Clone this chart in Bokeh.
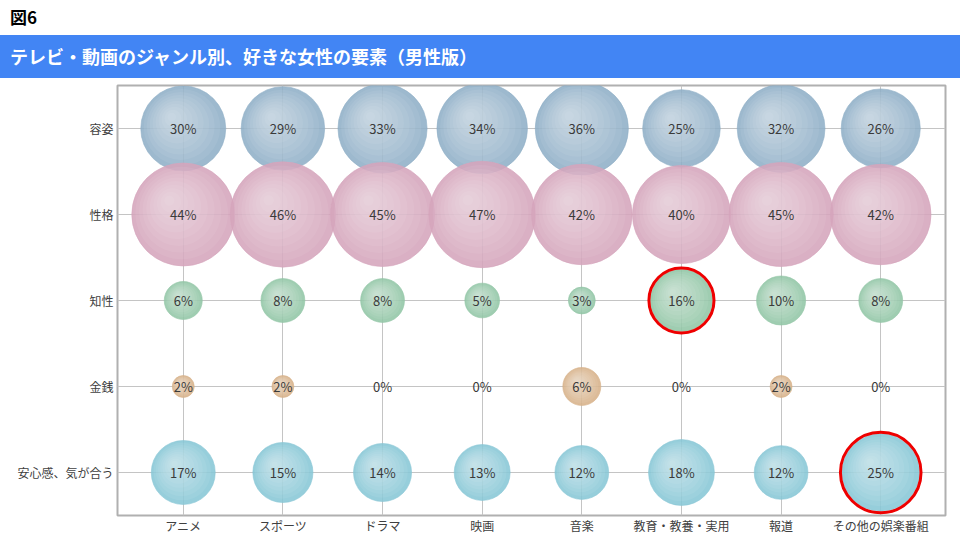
import math
from bokeh.plotting import figure
from bokeh.models import Range1d, FixedTicker, Div
from bokeh.layouts import column
from bokeh.embed import file_html
from bokeh.resources import INLINE
from bokeh.core.properties import value

# ---------------- data ----------------
genres = ["アニメ", "スポーツ", "ドラマ", "映画", "音楽", "教育・教養・実用", "報道", "その他の娯楽番組"]
factors = ["容姿", "性格", "知性", "金銭", "安心感、気が合う"]
v_appearance = [30, 29, 33, 34, 36, 25, 32, 26]
v_personality = [44, 46, 45, 47, 42, 40, 45, 42]
v_intellect = [6, 8, 8, 5, 3, 16, 10, 8]
v_money = [2, 2, 0, 0, 6, 0, 2, 0]
v_comfort = [17, 15, 14, 13, 12, 18, 12, 25]
series = [v_appearance, v_personality, v_intellect, v_money, v_comfort]
highlighted = [("教育・教養・実用", "知性"), ("その他の娯楽番組", "安心感、気が合う")]

fig_label = "図6"
banner_title = "テレビ・動画のジャンル別、好きな女性の要素（男性版）"

edge_colors = ["#8fafc7", "#d5a5bc", "#92c6a6", "#d7b28a", "#88c7d6"]

# ---------------- layout constants ----------------
W = 960
FIG_H = 462
BL, BR, BT, BB = 117, 15, 7, 25
x0, x1 = -0.66, 7.65
y0, y1 = 4.5, -0.5
frame_w = W - BL - BR
frame_h = FIG_H - BT - BB
ppx = frame_w / (x1 - x0)
ppy = frame_h / abs(y1 - y0)
R_SCALE = 7.76  # px radius per sqrt(percent)

FONT = "Noto Sans CJK JP"

p = figure(width=W, height=FIG_H, output_backend="svg", toolbar_location=None,
           x_range=Range1d(x0, x1), y_range=Range1d(y0, y1),
           min_border_left=BL, min_border_right=BR, min_border_top=BT, min_border_bottom=BB,
           margin=(0, 0, 0, 0))
p.outline_line_color = "#b0b0b0"
p.outline_line_width = 2
p.background_fill_color = "white"
p.border_fill_color = "white"

for ax, labels in ((p.xaxis, genres), (p.yaxis, factors)):
    ax.ticker = FixedTicker(ticks=list(range(len(labels))))
    ax.major_label_overrides = {i: s for i, s in enumerate(labels)}
    ax.axis_line_color = None
    ax.major_tick_line_color = None
    ax.minor_tick_line_color = None
    ax.major_tick_out = 0
    ax.major_tick_in = 0
    ax.minor_tick_out = 0
    ax.minor_tick_in = 0
    ax.major_label_text_font = FONT
    ax.major_label_text_font_size = "12px"
    ax.major_label_text_color = "#404040"
p.yaxis.major_label_standoff = 4
p.xaxis.major_label_standoff = 1
p.xgrid.ticker = FixedTicker(ticks=list(range(len(genres))))
p.ygrid.ticker = FixedTicker(ticks=list(range(len(factors))))
p.grid.grid_line_color = "#c4c4c4"
p.grid.grid_line_width = 1

# ---------------- bubbles ----------------
N_LAYERS = 9
for fi, (vals, col) in enumerate(zip(series, edge_colors)):
    xs, ys, sizes = [], [], []
    for gi, v in enumerate(vals):
        if v > 0:
            xs.append(gi); ys.append(fi); sizes.append(2 * R_SCALE * math.sqrt(v))
    if not xs:
        continue
    p.scatter(x=xs, y=ys, size=sizes, marker="circle", fill_color=col, fill_alpha=0.88,
              line_color=col, line_alpha=0.6, line_width=1)
    # soft highlight (radial gradient imitation)
    for k in range(1, N_LAYERS + 1):
        t = k / (N_LAYERS + 1)
        hx, hy, hs = [], [], []
        for x, y, s in zip(xs, ys, sizes):
            r = s / 2
            off = 0.3 * r * t
            hx.append(x - off / ppx)
            hy.append(y - off / ppy)
            hs.append(2 * r * (1 - t))
        p.scatter(x=hx, y=hy, size=hs, marker="circle", fill_color="white",
                  fill_alpha=0.065, line_color=None)

# ---------------- labels ----------------
lx, ly, lt = [], [], []
for fi, vals in enumerate(series):
    for gi, v in enumerate(vals):
        lx.append(gi); ly.append(fi); lt.append(f"{v}%")
p.text(x=lx, y=ly, text=lt, text_align="center", text_baseline="middle",
       text_font=value(FONT), text_font_size="13px", text_color="#3a3a3a")

# ---------------- red rings ----------------
rx, ry, rs = [], [], []
for g, f in highlighted:
    gi, fi = genres.index(g), factors.index(f)
    v = series[fi][gi]
    rx.append(gi); ry.append(fi); rs.append(2 * R_SCALE * math.sqrt(v) + 3)
p.scatter(x=rx, y=ry, size=rs, marker="circle", fill_color=None,
          line_color="#ee0000", line_width=3)

# ---------------- header ----------------
head = Div(width=W, height=35, margin=(0, 0, 0, 0),
           text=f'<div style="padding:7px 0 0 10px;font-family:\'{FONT}\';font-weight:bold;'
                f'font-size:17px;line-height:20px;color:#000;">{fig_label}</div>')
banner = Div(width=W, height=43, margin=(0, 0, 0, 0), styles={"background-color": "#4285F4"},
             text=f'<div style="width:{W}px;height:43px;box-sizing:border-box;padding-left:10px;'
                  f'font-family:\'{FONT}\';font-weight:bold;font-size:18px;line-height:43px;'
                  f'color:#ffffff;">{banner_title}</div>')

layout = column(head, banner, p, spacing=0, margin=(0, 0, 0, 0))
open("out.html", "w").write(file_html(layout, INLINE))
